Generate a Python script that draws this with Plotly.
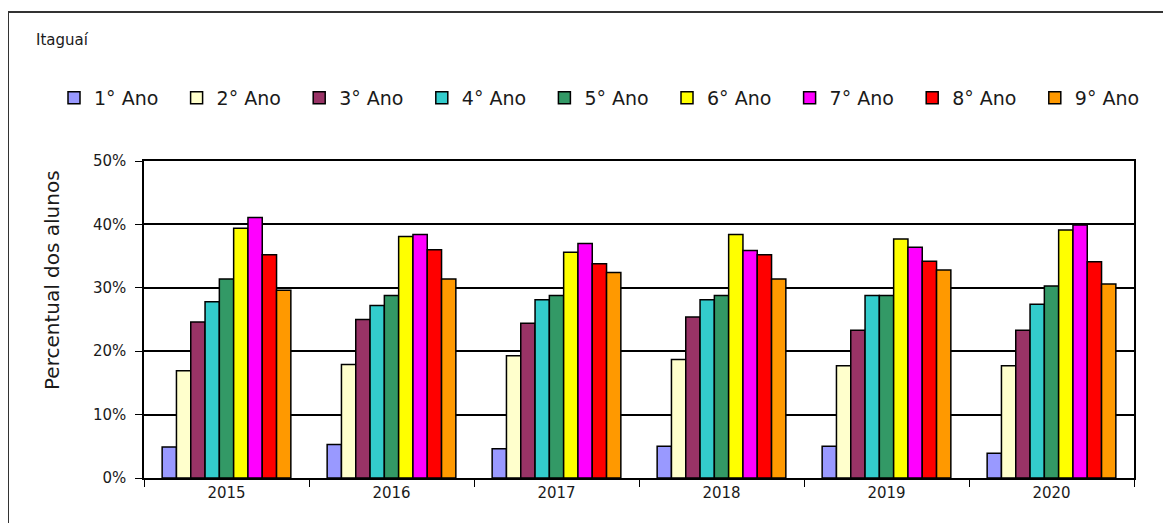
import plotly.graph_objects as go

# anos (categorias do eixo x)
anos = ['2015', '2016', '2017', '2018', '2019', '2020']

# séries: percentual dos alunos por ano escolar
serie_nomes = ['1° Ano', '2° Ano', '3° Ano', '4° Ano', '5° Ano',
               '6° Ano', '7° Ano', '8° Ano', '9° Ano']
ano1 = [4.9, 5.3, 4.6, 5.0, 5.0, 3.9]
ano2 = [16.9, 17.9, 19.3, 18.7, 17.7, 17.7]
ano3 = [24.6, 25.0, 24.4, 25.4, 23.3, 23.3]
ano4 = [27.8, 27.2, 28.1, 28.1, 28.8, 27.4]
ano5 = [31.4, 28.8, 28.8, 28.8, 28.8, 30.3]
ano6 = [39.4, 38.1, 35.6, 38.4, 37.7, 39.1]
ano7 = [41.1, 38.4, 37.0, 35.9, 36.4, 39.9]
ano8 = [35.2, 36.0, 33.8, 35.2, 34.2, 34.1]
ano9 = [29.6, 31.4, 32.4, 31.4, 32.8, 30.6]
valores = [ano1, ano2, ano3, ano4, ano5, ano6, ano7, ano8, ano9]

cores = ['#9999FF', '#FFFFCC', '#993366', '#33CCCC', '#339966',
         '#FFFF00', '#FF00FF', '#FF0000', '#FF9900']

FONTE = 'DejaVu Sans, Arial, sans-serif'
COR_TEXTO = '#1a1a1a'

# figura 1171x523; a página tem 8px de margem no body
W, H = 1171, 523
L, T = 136, 153
pw, ph = 990, 317
R, B = W - L - pw, H - T - ph


def px_x(v):
    return (v - L) / pw


def px_y(v):
    return (T + ph - v) / ph


fig = go.Figure()

leg_nomes = ['legend'] + ['legend%d' % i for i in range(2, 10)]

for nome, vals, cor, leg in zip(serie_nomes, valores, cores, leg_nomes):
    fig.add_trace(go.Bar(
        x=anos,
        y=vals,
        name=nome,
        legend=leg,
        marker=dict(color=cor, line=dict(color='black', width=1.5)),
    ))

# uma legenda por série, espaçadas como no original
legendas = {}
for i, leg in enumerate(leg_nomes):
    legendas[leg] = dict(
        orientation='h', xref='container', yref='container',
        x=(46 + 122.6 * i) / W, y=1 - 90 / H, xanchor='left', yanchor='middle',
        font=dict(family=FONTE, size=19, color=COR_TEXTO),
        bgcolor='rgba(0,0,0,0)', itemwidth=30,
    )

# moldura externa
fig.add_shape(type='rect', xref='paper', yref='paper',
              x0=px_x(0), x1=px_x(1200), y0=px_y(560), y1=px_y(4),
              line=dict(color='#333333', width=2), layer='below')

# título do eixo y
fig.add_annotation(text='Percentual dos alunos', textangle=-90,
                   xref='paper', yref='paper', x=px_x(30), y=px_y(272),
                   showarrow=False, font=dict(family=FONTE, size=20, color=COR_TEXTO))

fig.update_layout(
    width=W, height=H,
    margin=dict(l=L, r=R, t=T, b=B),
    paper_bgcolor='white',
    plot_bgcolor='white',
    title=dict(text='Itaguaí', x=28 / W, y=1 - 32 / H, xanchor='left', yanchor='middle',
               font=dict(family=FONTE, size=15, color=COR_TEXTO)),
    barmode='group',
    bargap=0.22,
    bargroupgap=0,
    showlegend=True,
    xaxis=dict(
        type='category',
        showline=True, linecolor='black', linewidth=1.5, mirror=True,
        ticks='outside', tickson='boundaries', ticklen=7, tickcolor='black',
        tickfont=dict(family=FONTE, size=15, color=COR_TEXTO),
        showgrid=False,
    ),
    yaxis=dict(
        range=[0, 50], dtick=10, ticksuffix='%',
        showline=True, linecolor='black', linewidth=1.5, mirror=True,
        ticks='outside', ticklen=7, tickcolor='black',
        showgrid=True, gridcolor='black', gridwidth=1.5,
        tickfont=dict(family=FONTE, size=15, color=COR_TEXTO),
        ticklabelstandoff=6,
        zeroline=False,
    ),
    **legendas,
)

fig.write_html('out.html')
